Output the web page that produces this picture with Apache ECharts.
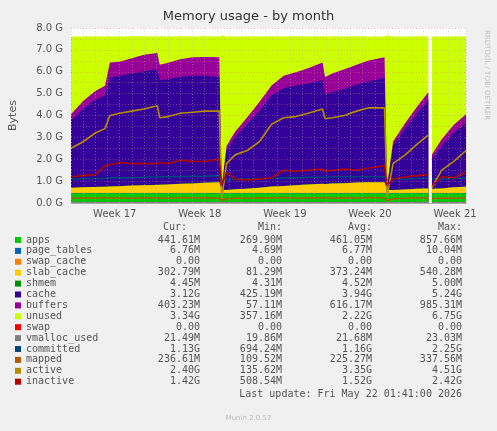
<!DOCTYPE html>
<html><head><meta charset="utf-8">
<script src="https://cdn.jsdelivr.net/npm/echarts@6/dist/echarts.min.js"></script>
<style>html,body{margin:0;padding:0;background:#f0f0f0}#c{width:497px;height:431px}</style>
</head><body><div id="c"></div>
<script>
const days=[0,1,2,2.8,3.2,4,5,6,7.1,7.3,8,9,10,11,12.2,12.4,12.8,13.5,14.5,15.5,16.5,17.5,18.5,19.5,20.7,20.9,21.5,22.5,23.5,24.5,25.8,26.0,26.5,27.5,28.5,29.4,29.5,29.7,30.5,31.5,32.5];
const apps=[0.44,0.44,0.45,0.44,0.45,0.44,0.45,0.45,0.44,0.45,0.44,0.45,0.44,0.45,0.44,0.44,0.44,0.44,0.45,0.44,0.45,0.44,0.45,0.44,0.45,0.44,0.45,0.44,0.45,0.44,0.44,0.44,0.44,0.44,0.45,0.44,null,0.44,0.44,0.45,0.44];
const pageTables=[0.007,0.007,0.007,0.007,0.007,0.007,0.007,0.007,0.007,0.007,0.007,0.007,0.007,0.007,0.007,0.007,0.007,0.007,0.007,0.007,0.007,0.007,0.007,0.007,0.007,0.007,0.007,0.007,0.007,0.007,0.007,0.007,0.007,0.007,0.007,0.007,null,0.007,0.007,0.007,0.007];
const swapCache=[0,0,0,0,0,0,0,0,0,0,0,0,0,0,0,0,0,0,0,0,0,0,0,0,0,0,0,0,0,0,0,0,0,0,0,0,null,0,0,0,0];
const slabCache=[0.25,0.27,0.28,0.3,0.3,0.32,0.34,0.36,0.38,0.38,0.4,0.42,0.45,0.47,0.5,0.15,0.15,0.18,0.2,0.25,0.3,0.33,0.36,0.4,0.42,0.42,0.44,0.46,0.48,0.5,0.5,0.15,0.15,0.17,0.2,0.22,null,0.2,0.22,0.26,0.3];
const shmem=[0.005,0.005,0.005,0.005,0.005,0.005,0.005,0.005,0.005,0.005,0.005,0.005,0.005,0.005,0.005,0.005,0.005,0.005,0.005,0.005,0.005,0.005,0.005,0.005,0.005,0.005,0.005,0.005,0.005,0.005,0.005,0.005,0.005,0.005,0.005,0.005,null,0.005,0.005,0.005,0.005];
const cache=[3.06,3.59,3.98,4.16,4.96,5.04,5.12,5.20,5.28,4.78,4.81,4.89,4.91,4.89,4.81,0.05,1.81,2.38,2.96,3.51,4.16,4.48,4.55,4.61,4.74,4.09,4.17,4.30,4.48,4.61,4.76,0.05,2.01,2.79,3.46,4.04,null,1.36,1.94,2.50,2.91];
const buffers=[0.3,0.35,0.4,0.45,0.7,0.65,0.7,0.75,0.75,0.7,0.75,0.8,0.85,0.85,0.9,0.1,0.2,0.25,0.3,0.4,0.45,0.55,0.6,0.7,0.8,0.8,0.85,0.9,0.9,0.95,0.95,0.1,0.2,0.25,0.3,0.35,null,0.2,0.3,0.35,0.4];
const unused=[3.55,2.95,2.5,2.25,1.2,1.15,1.0,0.85,0.75,1.3,1.2,1.05,0.95,0.95,0.95,6.9,5.0,4.35,3.7,3.0,2.25,1.8,1.65,1.45,1.2,1.85,1.7,1.5,1.3,1.1,0.95,6.9,4.8,3.95,3.2,2.55,null,5.4,4.7,4.05,3.55];
const swap=[0,0,0,0,0,0,0,0,0,0,0,0,0,0,0,0,0,0,0,0,0,0,0,0,0,0,0,0,0,0,0,0,0,0,0,0,null,0,0,0,0];
const vmalloc=[0.02,0.02,0.02,0.02,0.02,0.02,0.02,0.02,0.02,0.02,0.02,0.02,0.02,0.02,0.02,0.02,0.02,0.02,0.02,0.02,0.02,0.02,0.02,0.02,0.02,0.02,0.02,0.02,0.02,0.02,0.02,0.02,0.02,0.02,0.02,0.02,null,0.02,0.02,0.02,0.02];
const committed=[1.1,1.1,1.12,1.12,1.15,1.15,1.15,1.18,1.2,1.2,1.2,1.2,1.22,1.22,1.25,1.0,1.05,1.1,1.1,1.12,1.12,1.15,1.15,1.18,1.18,1.18,1.2,1.2,1.2,1.2,1.2,1.05,1.1,1.1,1.12,1.12,null,1.1,1.1,1.12,1.13];
const mapped=[0.22,0.24,0.22,0.25,0.23,0.24,0.22,0.25,0.23,0.24,0.22,0.25,0.23,0.24,0.22,0.12,0.2,0.23,0.22,0.24,0.23,0.25,0.22,0.24,0.23,0.25,0.22,0.24,0.23,0.25,0.23,0.12,0.2,0.22,0.24,0.23,null,0.2,0.23,0.22,0.24];
const active=[2.5,2.8,3.2,3.4,4.0,4.1,4.2,4.3,4.45,3.9,3.95,4.1,4.15,4.2,4.2,0.2,1.8,2.2,2.4,2.8,3.6,3.9,3.95,4.1,4.3,3.85,3.9,4.0,4.2,4.35,4.35,0.3,1.8,2.2,2.7,3.1,null,0.7,1.5,1.9,2.4];
const inactive=[1.2,1.25,1.3,1.7,1.75,1.85,1.8,1.8,1.8,1.85,1.8,1.95,1.9,1.9,2.0,0.8,1.4,1.1,1.05,1.1,1.15,1.5,1.45,1.5,1.55,1.45,1.5,1.55,1.5,1.6,1.7,0.8,1.1,1.2,1.25,1.3,null,0.8,1.2,1.15,1.42];
const weekTicks=[3.6,10.6,17.6,24.6,31.6];
const weekLabels=['Week 17','Week 18','Week 19','Week 20','Week 21'];
const yTicks=[0,1,2,3,4,5,6,7,8];
const legendRows=[
['apps','#00CC00','441.61M','269.90M','461.05M','857.66M'],
['page_tables','#0066B3','6.76M','4.69M','6.77M','10.04M'],
['swap_cache','#FF8000','0.00','0.00','0.00','0.00'],
['slab_cache','#FFCC00','302.79M','81.29M','373.24M','540.28M'],
['shmem','#008F00','4.45M','4.31M','4.52M','5.00M'],
['cache','#330099','3.12G','425.19M','3.94G','5.24G'],
['buffers','#990099','403.23M','57.11M','616.17M','985.31M'],
['unused','#CCFF00','3.34G','357.16M','2.22G','6.75G'],
['swap','#FF0000','0.00','0.00','0.00','0.00'],
['vmalloc_used','#808080','21.49M','19.86M','21.68M','23.03M'],
['committed','#00487D','1.13G','694.24M','1.16G','2.25G'],
['mapped','#B35A00','236.61M','109.52M','225.27M','337.56M'],
['active','#B38F00','2.40G','135.62M','3.35G','4.51G'],
['inactive','#B30000','1.42G','508.54M','1.52G','2.42G']];

// stacked areas: build cumulative tops, draw each filled to zero, top layers behind
const layers=[['apps',apps,'#00CC00'],['page_tables',pageTables,'#0066B3'],['swap_cache',swapCache,'#FF8000'],['slab_cache',slabCache,'#FFCC00'],['shmem',shmem,'#008F00'],['cache',cache,'#330099'],['buffers',buffers,'#990099'],['unused',unused,'#CCFF00']];
let acc=days.map(()=>0);
const areaSeries=layers.map(([name,arr,color],k)=>{
 acc=acc.map((v,i)=>(v===null||arr[i]===null)?null:v+arr[i]);
 const cum=acc.slice();
 return {name,type:'line',data:days.map((d,i)=>[d,cum[i]]),symbol:'none',connectNulls:false,
  lineStyle:{width:0},areaStyle:{color,opacity:1,origin:'start'},itemStyle:{color},z:2,zlevel:0,
  emphasis:{disabled:true}, order:k};
}).reverse();
const line=(name,arr,color)=>({name,type:'line',data:days.map((d,i)=>[d,arr[i]]),symbol:'none',connectNulls:false,lineStyle:{width:1.6,color},itemStyle:{color},z:3});
const mono='DejaVu Sans Mono';
const g=[];
g.push({type:'text',left:'center',top:10,style:{text:'Memory usage - by month',font:'13px DejaVu Sans',fill:'#333'}});
g.push({type:'text',x:490,y:30,rotation:-Math.PI/2,style:{text:'RRDTOOL / TOBI OETIKER',font:'7px DejaVu Sans',fill:'#c0c0c0'}});
g.push({type:'text',x:187,y:222,style:{text:'Cur:',font:'10px '+mono,fill:'#555',align:'right'}});
g.push({type:'text',x:282,y:222,style:{text:'Min:',font:'10px '+mono,fill:'#555',align:'right'}});
g.push({type:'text',x:372,y:222,style:{text:'Avg:',font:'10px '+mono,fill:'#555',align:'right'}});
g.push({type:'text',x:462,y:222,style:{text:'Max:',font:'10px '+mono,fill:'#555',align:'right'}});
legendRows.forEach((r,i)=>{
 const y=235+i*10.9;
 g.push({type:'rect',shape:{x:15,y:y+2,width:6,height:6},style:{fill:r[1]}});
 g.push({type:'text',x:26,y:y,style:{text:r[0],font:'10px '+mono,fill:'#555'}});
 [[200,2],[282,3],[372,4],[462,5]].forEach(([x,k])=>g.push({type:'text',x:x,y:y,style:{text:r[k],font:'10px '+mono,fill:'#555',align:'right'}}));
});
g.push({type:'text',x:462,y:389,style:{text:'Last update: Fri May 22 01:41:00 2026',font:'10px '+mono,fill:'#555',align:'right'}});
g.push({type:'text',left:'center',top:415,style:{text:'Munin 2.0.57',font:'7px DejaVu Sans',fill:'#bbb'}});

const chart=echarts.init(document.getElementById('c'),null,{renderer:'canvas'});
chart.setOption({
 animation:false,backgroundColor:'#f0f0f0',
 grid:{left:67,right:31,top:28,bottom:228,backgroundColor:'#fff',show:true,borderWidth:0},
 xAxis:{type:'value',min:0,max:32.5,interval:1,
  axisLine:{lineStyle:{color:'#aaa'}},axisTick:{show:false},
  axisLabel:{customValues:weekTicks,formatter:v=>weekLabels[weekTicks.indexOf(v)]||'',color:'#555',fontFamily:'DejaVu Sans',fontSize:10,margin:6},
  splitLine:{show:true,lineStyle:{color:'rgba(180,180,180,0.45)',type:[1,2],width:1}},z:5},
 yAxis:{type:'value',min:0,max:8,interval:0.5,name:'Bytes',nameLocation:'middle',nameGap:52,nameTextStyle:{color:'#555',fontSize:11,fontFamily:'DejaVu Sans'},
  axisLine:{show:false},axisTick:{show:false},
  axisLabel:{customValues:yTicks,formatter:v=>v.toFixed(1)+' G',color:'#555',fontFamily:'DejaVu Sans',fontSize:10},
  splitLine:{show:true,lineStyle:{color:'rgba(220,120,120,0.45)',type:[1,2],width:1}},z:5},
 graphic:g,
 series:areaSeries.concat([line('swap',swap,'#FF0000'),line('vmalloc_used',vmalloc,'#808080'),line('committed',committed,'#00487D'),line('mapped',mapped,'#B35A00'),line('active',active,'#B38F00'),line('inactive',inactive,'#B30000')])
});
</script></body></html>
